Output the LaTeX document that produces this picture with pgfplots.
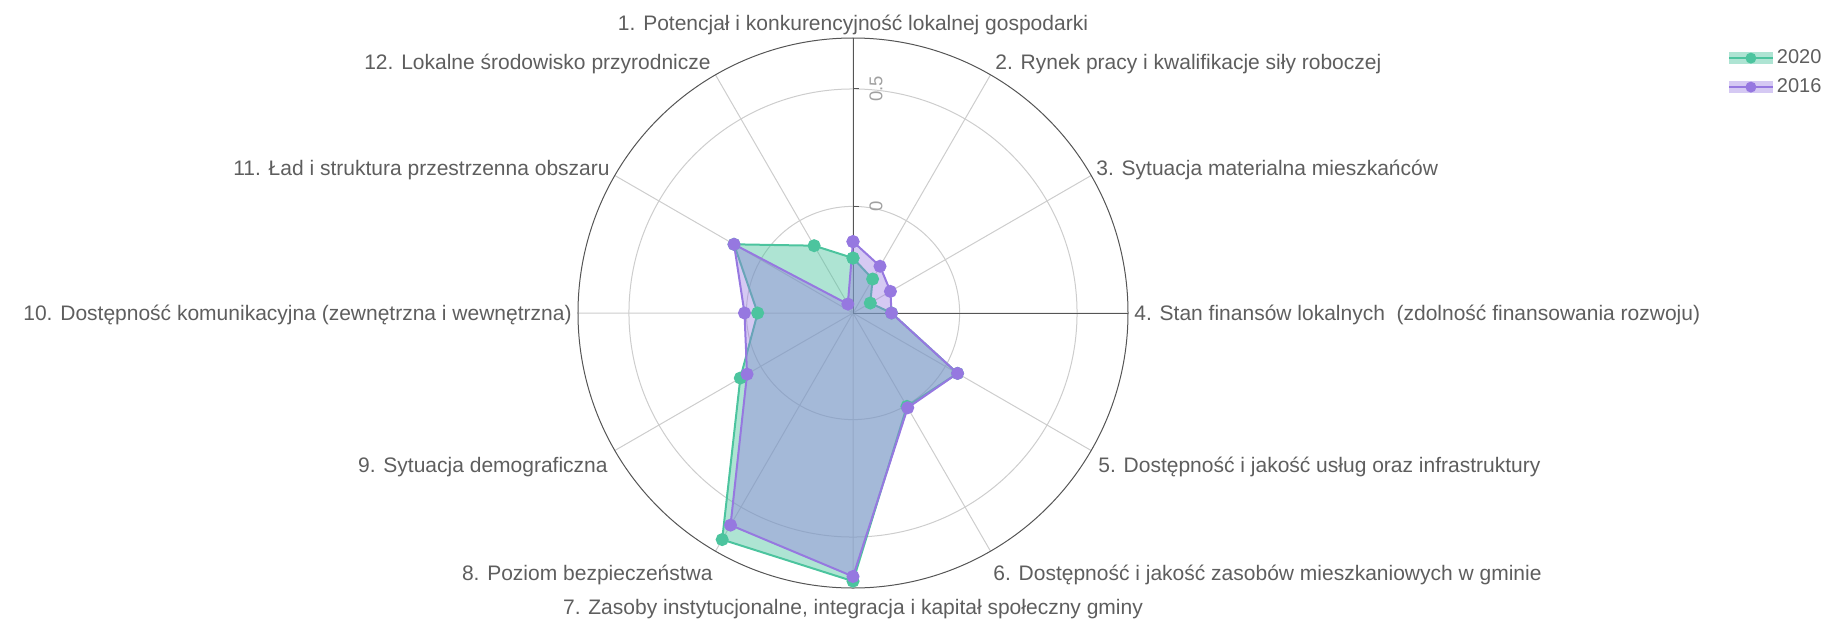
\documentclass[border=0pt]{standalone}
\usepackage{fontspec}
\setmainfont{Liberation Sans}
\usepackage{pgfplots}
\pgfplotsset{compat=1.18}
\usepgfplotslibrary{polar}
\definecolor{gA}{RGB}{76,196,158}
\definecolor{pA}{RGB}{150,120,224}
\definecolor{txt}{HTML}{5E5E5E}
\definecolor{gridc}{HTML}{CDCDCD}
\definecolor{axc}{HTML}{555555}
\definecolor{tickc}{HTML}{A0A0A0}
\newcommand{\lf}{\fontsize{10.5}{12.6}\selectfont}
\begin{document}
\begin{tikzpicture}
\begin{polaraxis}[
  width=275pt, height=275pt, scale only axis,
  xmin=0, xmax=360,
  ymin=-0.454, ymax=0.717,
  y coord trafo/.code={\pgfmathparse{#1+0.454}},
  y coord inv trafo/.code={\pgfmathparse{#1-0.454}},
  xtick={0,30,...,330}, xticklabels={},
  ytick={0,0.5}, yticklabels={},
  major tick length=0pt,
  grid=major,
  major grid style={draw=gridc, line width=0.5pt},
  axis line style={draw=axc, line width=0.5pt},
  clip=false,
  legend style={at={(axis description cs:2.09,0.985)}, anchor=north west, draw=none, fill=none,
    font=\fontsize{10}{12}\selectfont, text=txt, row sep=3pt, inner sep=0pt, nodes={inner sep=1.5pt}},
  legend cell align=left,
]
\coordinate (C) at (axis cs:0,-0.454);
\draw[axc, line width=0.5pt] (axis cs:90,-0.454) -- (axis cs:90,0.717);
\draw[axc, line width=0.5pt] (axis cs:90,0) -- ++(3pt,0pt);
\draw[axc, line width=0.5pt] (axis cs:90,0.5) -- ++(3pt,0pt);
\node[rotate=90, font=\fontsize{9.25}{11}\selectfont, text=tickc, inner sep=0pt] at ([xshift=11.5pt]axis cs:90,0) {0};
\node[rotate=90, font=\fontsize{9.25}{11}\selectfont, text=tickc, inner sep=0pt] at ([xshift=11.5pt]axis cs:90,0.5) {0.5};
% 2020
\addplot[draw=gA, line width=1pt, fill=gA, fill opacity=0.45, mark=*, mark size=2.75pt,
  mark options={fill=gA, draw=gA, fill opacity=1},
  legend image code/.code={
    \path[draw=none, fill=gA, fill opacity=0.45] (0pt,-3pt) rectangle (22pt,3pt);
    \draw[gA, line width=1pt, opacity=1] (0pt,0pt) -- (22pt,0pt);
    \path[draw=none, fill=gA, fill opacity=1] (11pt,0pt) circle (2.75pt);}]
coordinates {
(90,-0.22) (60,-0.287) (30,-0.369) (0,-0.29) (330,0.06) (300,0.005)
(270,0.688) (240,0.66) (210,0.10) (180,-0.048) (150,0.131) (120,-0.123) (90,-0.22)
};
\addlegendentry{2020}
% 2016
\addplot[draw=pA, line width=1pt, fill=pA, fill opacity=0.4, mark=*, mark size=2.75pt,
  mark options={fill=pA, draw=pA, fill opacity=1},
  legend image code/.code={
    \path[draw=none, fill=pA, fill opacity=0.4] (0pt,-3pt) rectangle (22pt,3pt);
    \draw[pA, line width=1pt, opacity=1] (0pt,0pt) -- (22pt,0pt);
    \path[draw=none, fill=pA, fill opacity=1] (11pt,0pt) circle (2.75pt);}]
coordinates {
(90,-0.15) (60,-0.224) (30,-0.27) (0,-0.29) (330,0.06) (300,0.012)
(270,0.668) (240,0.589) (210,0.067) (180,0.008) (150,0.131) (120,-0.41) (90,-0.15)
};
\addlegendentry{2016}
\end{polaraxis}
\begin{scope}[every node/.style={font=\lf, text=txt, inner sep=0pt}]
\node[anchor=base] at ([shift={(0pt,141pt)}]C) {1. Potencjał i konkurencyjność lokalnej gospodarki};
\node[anchor=base west] at ([shift={(71pt,121.5pt)}]C) {2. Rynek pracy i kwalifikacje siły roboczej};
\node[anchor=base west] at ([shift={(121.5pt,68.5pt)}]C) {3. Sytuacja materialna mieszkańców};
\node[anchor=base west] at ([shift={(140.5pt,-3.5pt)}]C) {4. Stan finansów lokalnych\ \ (zdolność finansowania rozwoju)};
\node[anchor=base west] at ([shift={(122.5pt,-79.5pt)}]C) {5. Dostępność i jakość usług oraz infrastruktury};
\node[anchor=base west] at ([shift={(70pt,-133.5pt)}]C) {6. Dostępność i jakość zasobów mieszkaniowych w gminie};
\node[anchor=base] at ([shift={(0pt,-150.5pt)}]C) {7. Zasoby instytucjonalne, integracja i kapitał społeczny gminy};
\node[anchor=base east] at ([shift={(-70pt,-133.5pt)}]C) {8. Poziom bezpieczeństwa};
\node[anchor=base east] at ([shift={(-122.5pt,-79.5pt)}]C) {9. Sytuacja demograficzna};
\node[anchor=base east] at ([shift={(-140.5pt,-3.5pt)}]C) {10. Dostępność komunikacyjna (zewnętrzna i wewnętrzna)};
\node[anchor=base east] at ([shift={(-121.5pt,68.5pt)}]C) {11. Ład i struktura przestrzenna obszaru};
\node[anchor=base east] at ([shift={(-71pt,121.5pt)}]C) {12. Lokalne środowisko przyrodnicze};
\end{scope}
\pgfresetboundingbox
\path[use as bounding box] ([shift={(-426.5pt,-154.5pt)}]C) rectangle ([shift={(488.5pt,156.5pt)}]C);
\end{tikzpicture}
\end{document}
